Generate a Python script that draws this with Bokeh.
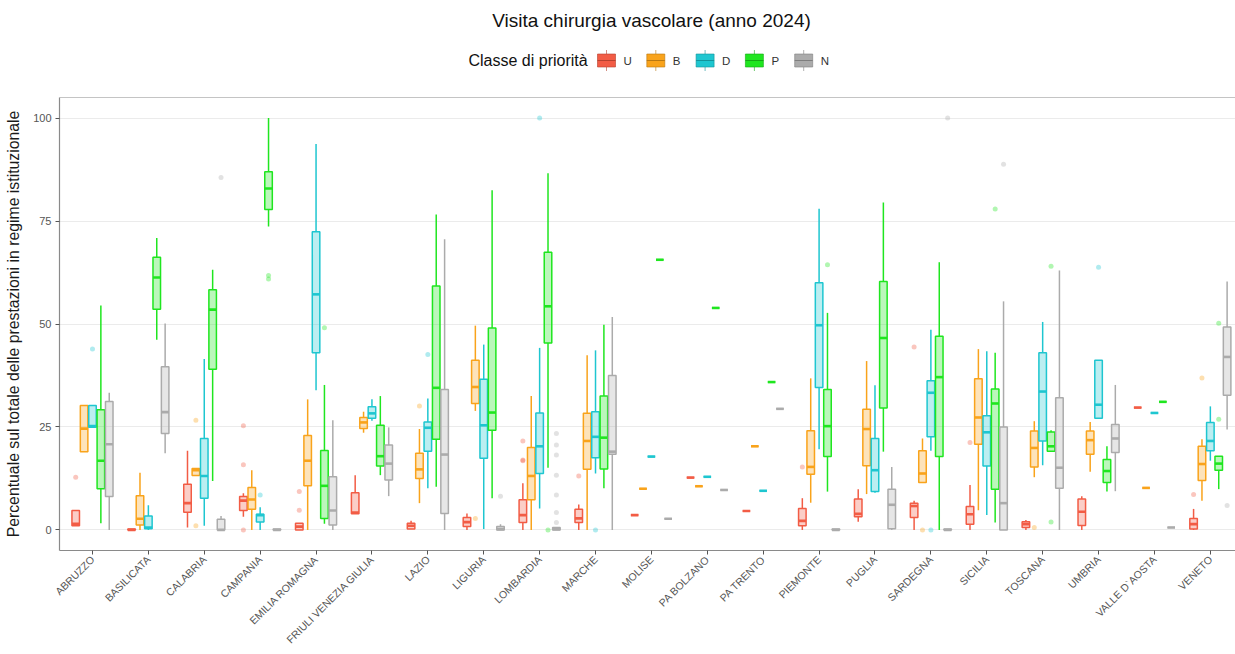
import numpy as np
from bokeh.plotting import figure
from bokeh.layouts import column
from bokeh.models import Range1d, FixedTicker, Span
from bokeh.embed import file_html
from bokeh.resources import INLINE
from bokeh.core.properties import value

TITLE = "Visita chirurgia vascolare (anno 2024)"
LEGEND_TITLE = "Classe di priorità"
Y_LABEL = "Percentuale sul totale delle prestazioni in regime istituzionale"

regions = ["ABRUZZO", "BASILICATA", "CALABRIA", "CAMPANIA", "EMILIA ROMAGNA",
           "FRIULI VENEZIA GIULIA", "LAZIO", "LIGURIA", "LOMBARDIA", "MARCHE",
           "MOLISE", "PA BOLZANO", "PA TRENTO", "PIEMONTE", "PUGLIA", "SARDEGNA",
           "SICILIA", "TOSCANA", "UMBRIA", "VALLE D`AOSTA", "VENETO"]
classes = ["U", "B", "D", "P", "N"]
y_ticks = [0, 25, 50, 75, 100]

# five-number summaries per class (lower whisker, q1, median, q3, upper whisker)
U_low = [1.0, 0, 0.6, 3.2, 0, 3.9, 0.2, 0, 0, 0, 3.6, 12.7, 4.6, 0, 2.0, 0, 0, 0, 0, 29.7, 0]
U_q1 = [1.0, 0, 4.3, 4.7, 0, 3.9, 0.2, 0.8, 1.8, 1.8, 3.6, 12.7, 4.6, 1.0, 3.2, 3.0, 1.4, 0.6, 1.1, 29.7, 0.2]
U_med = [1.5, 0, 6.5, 7.1, 0.8, 4.2, 1.0, 1.9, 3.6, 2.8, 3.6, 12.7, 4.6, 2.2, 3.9, 5.8, 3.8, 1.4, 4.4, 29.7, 1.4]
U_q3 = [4.7, 0.2, 11.1, 8.1, 1.6, 9.0, 1.6, 3.0, 7.3, 5.0, 3.6, 12.7, 4.6, 5.2, 7.5, 6.5, 5.7, 2.0, 7.5, 29.7, 2.8]
U_high = [4.7, 0.2, 19.2, 8.9, 1.6, 13.3, 2.2, 4.0, 11.3, 6.2, 3.6, 12.7, 4.6, 7.7, 9.9, 7.1, 10.9, 2.4, 8.2, 29.7, 5.1]

B_low = [19.0, 0, 13.2, 0, 0, 23.6, 6.5, 28.9, 0, 0, 10.0, 10.6, 20.3, 6.6, 8.7, 11.5, 4.8, 12.8, 14.1, 10.2, 7.1]
B_q1 = [19.0, 1.2, 13.2, 5.0, 10.7, 24.6, 12.5, 30.7, 7.3, 14.7, 10.0, 10.6, 20.3, 13.5, 15.6, 11.5, 20.8, 15.3, 18.4, 10.2, 12.0]
B_med = [24.6, 2.7, 14.5, 7.4, 16.8, 26.1, 14.7, 34.7, 13.1, 21.6, 10.0, 10.6, 20.3, 15.3, 24.5, 13.7, 27.3, 19.9, 21.8, 10.2, 16.0]
B_q3 = [30.2, 8.3, 14.9, 10.3, 22.9, 27.3, 18.6, 41.2, 20.0, 28.3, 10.0, 10.6, 20.3, 24.1, 29.3, 19.2, 36.7, 24.0, 24.0, 10.2, 20.3]
B_high = [30.2, 13.9, 14.9, 14.5, 31.7, 28.7, 24.5, 49.6, 32.5, 42.4, 10.0, 10.6, 20.3, 36.8, 41.0, 22.2, 43.9, 26.4, 26.2, 10.2, 22.0]

D_low = [24.9, 0, 1.0, 0, 33.9, 26.5, 10.1, 0.2, 5.2, 13.7, 17.8, 12.9, 9.5, 19.6, 9.0, 19.2, 3.6, 15.7, 27.1, 28.4, 16.8]
D_q1 = [24.9, 0.3, 7.7, 1.9, 43.0, 27.1, 19.1, 17.4, 13.7, 17.5, 17.8, 12.9, 9.5, 34.6, 9.3, 22.6, 15.5, 21.6, 27.1, 28.4, 19.2]
D_med = [25.2, 0.6, 13.1, 3.6, 57.2, 28.3, 24.8, 25.4, 20.3, 22.6, 17.8, 12.9, 9.5, 49.7, 14.5, 33.3, 23.7, 33.6, 30.4, 28.4, 21.6]
D_q3 = [30.2, 3.4, 22.2, 3.8, 72.4, 29.9, 26.2, 36.6, 28.4, 28.7, 17.8, 12.9, 9.5, 60.0, 22.2, 36.2, 27.7, 43.0, 41.2, 28.4, 26.1]
D_high = [30.2, 6.0, 41.5, 5.5, 93.7, 31.7, 31.9, 45.0, 44.2, 43.6, 17.8, 12.9, 9.5, 78.0, 35.1, 48.6, 43.4, 50.5, 41.2, 28.4, 30.0]

P_low = [1.6, 46.2, 11.9, 73.7, 1.5, 13.3, 10.5, 7.7, 15.1, 10.1, 65.6, 53.9, 35.9, 9.3, 19.0, 0, 1.8, 19.1, 9.3, 31.1, 9.9]
P_q1 = [10.0, 53.6, 39.0, 77.8, 2.8, 15.5, 22.0, 24.2, 45.4, 14.8, 65.6, 53.9, 35.9, 17.8, 29.6, 17.8, 9.9, 19.1, 11.5, 31.1, 14.5]
P_med = [16.8, 61.3, 53.5, 82.9, 10.7, 17.9, 34.5, 28.5, 54.3, 22.4, 65.6, 53.9, 35.9, 25.2, 46.6, 37.1, 30.7, 20.3, 14.3, 31.1, 16.1]
P_q3 = [29.2, 66.2, 58.3, 87.0, 19.3, 25.4, 59.2, 49.0, 67.4, 32.5, 65.6, 53.9, 35.9, 34.1, 60.3, 47.0, 34.2, 23.8, 17.1, 31.1, 17.9]
P_high = [54.5, 70.9, 63.2, 100.0, 35.2, 32.5, 76.6, 82.5, 86.6, 49.8, 65.6, 53.9, 35.9, 52.7, 79.5, 65.0, 43.0, 24.2, 20.3, 31.1, 17.9]

N_low = [0, 18.6, 0, 0, 0, 8.2, 0, 0, 0, 0, 2.7, 9.7, 29.4, 0, 0, 0, 0, 0, 9.4, 0.6, 24.4]
N_q1 = [8.1, 23.4, 0, 0, 1.2, 12.1, 4.0, 0, 0, 18.4, 2.7, 9.7, 29.4, 0, 0.3, 0, 0, 10.1, 18.8, 0.6, 32.7]
N_med = [20.8, 28.6, 0, 0, 4.7, 16.1, 18.3, 0.2, 0.2, 19.0, 2.7, 9.7, 29.4, 0, 6.1, 0, 6.5, 15.1, 22.2, 0.6, 42.0]
N_q3 = [31.2, 39.6, 2.6, 0.2, 12.9, 20.6, 34.1, 0.8, 0.6, 37.5, 2.7, 9.7, 29.4, 0.2, 9.9, 0.2, 25.0, 32.1, 25.6, 0.6, 49.3]
N_high = [33.3, 50.1, 3.4, 0.2, 26.6, 24.9, 70.6, 1.4, 0.6, 51.7, 2.7, 9.7, 29.4, 0.2, 15.3, 0.2, 55.5, 63.0, 35.2, 0.6, 60.3]

# outliers: region and value
U_out_region = ["ABRUZZO", "CAMPANIA", "CAMPANIA", "CAMPANIA", "EMILIA ROMAGNA", "EMILIA ROMAGNA",
                "LOMBARDIA", "LOMBARDIA", "LOMBARDIA", "MARCHE", "PIEMONTE", "SARDEGNA", "SICILIA", "VENETO"]
U_out_value = [12.8, 25.3, 15.8, 0, 9.3, 4.8, 21.6, 17.0, 16.8, 13.1, 15.3, 44.4, 21.2, 8.6]
B_out_region = ["CALABRIA", "CALABRIA", "LAZIO", "LIGURIA", "SARDEGNA", "TOSCANA", "VENETO"]
B_out_value = [26.6, 1.0, 30.1, 2.8, 0, 0.6, 36.9]
D_out_region = ["ABRUZZO", "CAMPANIA", "LAZIO", "LOMBARDIA", "MARCHE", "SARDEGNA", "UMBRIA"]
D_out_value = [43.9, 8.5, 42.6, 100.0, 0, 0, 63.8]
P_out_region = ["CAMPANIA", "CAMPANIA", "EMILIA ROMAGNA", "LOMBARDIA", "PIEMONTE", "SICILIA",
                "TOSCANA", "TOSCANA", "VENETO", "VENETO"]
P_out_value = [61.8, 60.9, 49.1, 0, 64.4, 77.9, 64.0, 1.9, 50.2, 26.9]
N_out_region = ["CALABRIA", "LIGURIA", "LOMBARDIA", "LOMBARDIA", "LOMBARDIA", "LOMBARDIA",
                "LOMBARDIA", "LOMBARDIA", "LOMBARDIA", "SARDEGNA", "SICILIA", "VENETO"]
N_out_value = [85.6, 8.2, 23.4, 20.6, 18.2, 13.3, 8.5, 4.2, 1.8, 100.0, 88.8, 5.9]

stats = {
    "U": (U_low, U_q1, U_med, U_q3, U_high, U_out_region, U_out_value),
    "B": (B_low, B_q1, B_med, B_q3, B_high, B_out_region, B_out_value),
    "D": (D_low, D_q1, D_med, D_q3, D_high, D_out_region, D_out_value),
    "P": (P_low, P_q1, P_med, P_q3, P_high, P_out_region, P_out_value),
    "N": (N_low, N_q1, N_med, N_q3, N_high, N_out_region, N_out_value),
}

colors = {"U": "#F25C45", "B": "#F9A31B", "D": "#1EC6D0", "P": "#1FE61F", "N": "#ABABAB"}
dark = {"U": "#B5412F", "B": "#B87812", "D": "#14939A", "P": "#14A814", "N": "#7E7E7E"}

FONT = "Liberation Sans"
W = 1235
HEAD_H = 93
LEFT = 59
BORDER = "#8A8A8A"

# ---------- main plot ----------
p = figure(width=W, height=654 - HEAD_H, x_range=Range1d(0.41, 21.45), y_range=Range1d(-5, 105),
           output_backend="svg", toolbar_location=None,
           min_border_left=LEFT, min_border_right=0, min_border_top=4, min_border_bottom=104)
p.background_fill_color = "white"
p.border_fill_color = "white"
p.outline_line_color = None
p.add_layout(Span(location=105, dimension="width", line_color=BORDER, line_width=1.2))

pos = np.arange(1, len(regions) + 1)
offsets = dict(zip(classes, [-0.3, -0.15, 0.0, 0.15, 0.3]))
bw = 0.135
idx = {r: i for i, r in enumerate(regions)}

for c in classes:
    lo, q1, med, q3, hi, orr, ov = stats[c]
    x = pos + offsets[c]
    col = colors[c]
    p.segment(x0=x, y0=q3, x1=x, y1=hi, line_color=col, line_width=1.5)
    p.segment(x0=x, y0=q1, x1=x, y1=lo, line_color=col, line_width=1.5)
    p.vbar(x=x, width=bw, bottom=q1, top=q3, fill_color=col, fill_alpha=0.3,
           line_color=col, line_width=1.5)
    p.segment(x0=x - bw / 2, y0=med, x1=x + bw / 2, y1=med, line_color=col, line_width=2.6)
    ox = np.array([idx[r] + 1 for r in orr]) + offsets[c]
    p.scatter(x=ox, y=ov, size=5, fill_color=col, line_color=None, fill_alpha=0.35)

p.xgrid.visible = False
p.ygrid.grid_line_color = "#EBEBEB"
p.ygrid.grid_line_width = 1
p.ygrid.ticker = FixedTicker(ticks=y_ticks)

p.yaxis.ticker = FixedTicker(ticks=y_ticks)
p.xaxis.ticker = FixedTicker(ticks=list(pos))
p.xaxis.major_label_overrides = {int(i): r for i, r in zip(pos, regions)}
p.xaxis.major_label_orientation = np.pi / 4
for ax in (p.xaxis, p.yaxis):
    ax.axis_line_color = BORDER
    ax.axis_line_width = 1.2
    ax.major_tick_line_color = "#555555"
    ax.major_tick_out = 4
    ax.major_tick_in = 0
    ax.minor_tick_line_color = None
    ax.major_label_text_font = FONT
    ax.major_label_text_color = "#555555"
p.xaxis.major_label_text_font_size = "10.5px"
p.xaxis.major_label_standoff = 3
p.yaxis.major_label_text_font_size = "11px"
p.yaxis.major_label_standoff = 4
p.yaxis.axis_label = Y_LABEL
p.yaxis.axis_label_text_font = FONT
p.yaxis.axis_label_text_font_size = "15.8px"
p.yaxis.axis_label_text_font_style = "normal"
p.yaxis.axis_label_text_color = "#1A1A1A"
p.yaxis.axis_label_standoff = 8

# ---------- header: title + legend (data coordinates equal page pixels) ----------
h = figure(width=W, height=HEAD_H, x_range=Range1d(LEFT, W), y_range=Range1d(0, HEAD_H),
           output_backend="svg", toolbar_location=None, x_axis_type=None, y_axis_type=None,
           min_border_left=LEFT, min_border_right=0, min_border_top=0, min_border_bottom=0)
h.outline_line_color = None
h.grid.visible = False
h.background_fill_color = "white"
h.border_fill_color = "white"

h.text(x=[651], y=[HEAD_H - 20], text=[TITLE], text_align="center", text_baseline="middle",
       text_font=value(FONT), text_font_size="19px", text_color="#111111")
leg_y = HEAD_H - 60
h.text(x=[468], y=[leg_y], text=[LEGEND_TITLE], text_align="left", text_baseline="middle",
       text_font=value(FONT), text_font_size="16px", text_color="#111111")
key_x0, key_step = 606, 49.3
kx = key_x0 + key_step * np.arange(len(classes))
h.segment(x0=kx, y0=leg_y - 10.5, x1=kx, y1=leg_y + 10.5,
          line_color=[dark[c] for c in classes], line_width=1, line_alpha=0.6)
h.rect(x=kx, y=[leg_y] * 5, width=18, height=13, fill_color=[colors[c] for c in classes],
       line_color=[dark[c] for c in classes], line_width=1, line_alpha=0.6)
h.segment(x0=kx - 9, y0=leg_y, x1=kx + 9, y1=leg_y,
          line_color=[dark[c] for c in classes], line_width=1.2)
h.text(x=kx + 17, y=[leg_y] * 5, text=classes, text_align="left", text_baseline="middle",
       text_font=value(FONT), text_font_size="11.5px", text_color="#333333")

layout = column(h, p, spacing=0)
open("out.html", "w").write(file_html(layout, INLINE))
